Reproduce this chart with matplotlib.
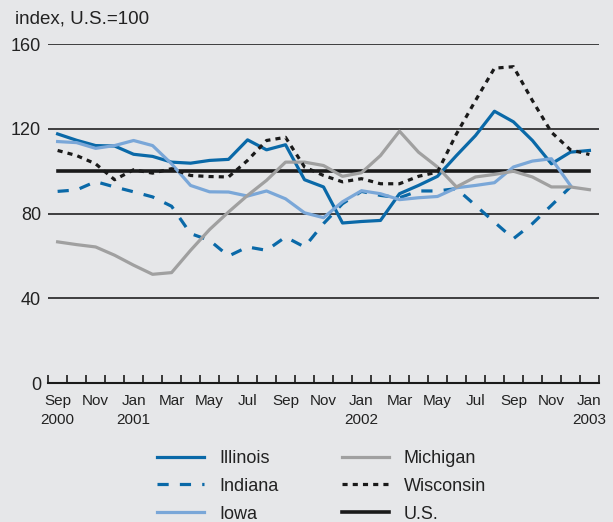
import numpy as np
import matplotlib
matplotlib.use("Agg")
import matplotlib.pyplot as plt

plt.rcParams['font.family'] = ['Liberation Sans', 'DejaVu Sans']

# monthly index values, Sep 2000 .. Jan 2003 (U.S. = 100)
months = list(range(29))
tick_labels = ["Sep\n2000", "Nov", "Jan\n2001", "Mar", "May", "Jul", "Sep", "Nov",
               "Jan\n2002", "Mar", "May", "Jul", "Sep", "Nov", "Jan\n2003"]

illinois = [117.6, 114.6, 112.1, 111.9, 108, 107, 104.3, 103.8, 105.1, 105.6, 114.8, 110.1,
            112.5, 96, 92.6, 75.6, 76.3, 76.8, 89.4, 93.3, 97.6, 107.4, 116.8, 128.3,
            123.3, 114.5, 103.5, 109, 109.8]
indiana = [90.5, 91.2, 95.1, 92.6, 90.3, 87.9, 83.5, 70.6, 67.4, 60, 64.3, 62.7,
           69, 64.3, 75.3, 84.7, 90.5, 88.6, 87.5, 90.7, 90.7, 91.8, 83.9, 76,
           68.2, 75.3, 83.9, 92.6, np.nan]
iowa = [114, 113.5, 110.8, 112.1, 114.5, 112.1, 103.5, 93.3, 90.3, 90.2, 88.3, 90.7,
        87, 80.4, 78.1, 85.6, 90.8, 89.4, 86.6, 87.5, 88.1, 92.2, 93.3, 94.6,
        102, 104.8, 105.9, 93.3, np.nan]
michigan = [66.7, 65.4, 64.3, 60.4, 55.7, 51.4, 52.2, 62.7, 72.5, 80.8, 88.6, 95.7,
            104.3, 104.3, 102.7, 97.6, 99.3, 107.4, 118.9, 109, 102, 92.6, 97.3, 98.5,
            100, 97.3, 92.6, 92.6, 91.3]
wisconsin = [109.8, 107.4, 103.5, 96, 100.7, 99.1, 101.2, 98, 97.5, 97.3, 105.1, 114.5,
             116, 102, 98, 95, 96.5, 94.1, 94.1, 97.6, 99.6, 117.6, 133.3, 148.6,
             149.3, 133.3, 118.4, 110.1, 107.9]
us = [100] * 29

bg = '#e6e7e9'
blue = '#0a69a8'
light_blue = '#7aa7d8'
gray = '#a0a0a0'
ink = '#222222'

fig = plt.figure(figsize=(6.13, 5.22), dpi=100, facecolor=bg)
ax = fig.add_axes([0.0785, 0.2657, 0.8985, 0.65])
ax.set_facecolor(bg)

# grid lines
for y in [40, 80, 120, 160]:
    ax.axhline(y, color=ink, lw=1.2, zorder=1)

ax.plot(months, illinois, color=blue, lw=2.3, label='Illinois', zorder=3)
ax.plot(months, indiana, color=blue, lw=2.3, ls=(0, (3.5, 3.5)), label='Indiana', zorder=3)
ax.plot(months, iowa, color=light_blue, lw=2.3, label='Iowa', zorder=3)
ax.plot(months, michigan, color=gray, lw=2.3, label='Michigan', zorder=3)
ax.plot(months, wisconsin, color='#1a1a1a', lw=2.3, ls=(0, (1.6, 1.6)), label='Wisconsin', zorder=4)
ax.plot(months, us, color='#1a1a1a', lw=2.6, label='U.S.', zorder=2)

ax.set_xlim(-0.5, 28.5)
ax.set_ylim(0, 160)

for s in ['top', 'right', 'left']:
    ax.spines[s].set_visible(False)
ax.spines['bottom'].set_linewidth(1.5)
ax.spines['bottom'].set_color('#1a1a1a')

ax.set_yticks([0, 40, 80, 120, 160])
ax.tick_params(axis='y', length=0, pad=5, labelsize=13, labelcolor=ink)

ax.set_xticks(months[::2])
ax.set_xticklabels(tick_labels, fontsize=11, color=ink, linespacing=1.45)
ax.tick_params(axis='x', length=0, pad=8)
ax.set_xticks(np.arange(-0.5, 29, 1), minor=True)
ax.tick_params(axis='x', which='minor', direction='in', length=6, width=1.2, color='#1a1a1a')

fig.text(0.024, 0.963, 'index, U.S.=100', fontsize=13.5, color=ink, va='center')

fig.legend(loc='upper left', bbox_to_anchor=(0.256, 0.138), ncol=2, frameon=False,
           fontsize=13, handlelength=2.6, handletextpad=0.85, columnspacing=3.5,
           labelspacing=0.6, borderpad=0, borderaxespad=0, labelcolor=ink)

fig.savefig('out.png', dpi=100, facecolor=bg)
